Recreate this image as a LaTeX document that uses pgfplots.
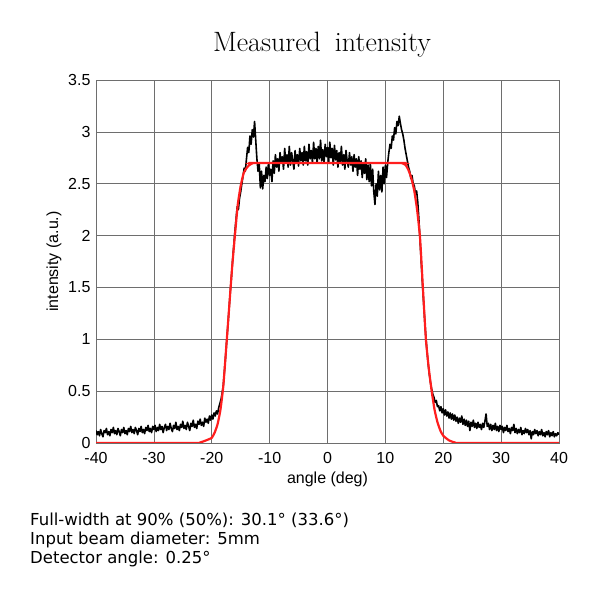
\documentclass[border=0pt]{standalone}
\usepackage{pgfplots}
\pgfplotsset{compat=1.18}
\usepackage{pgfplotstable}
\usepackage{fontspec}
\newfontfamily\arialfont{Liberation Sans}
\newfontfamily\verdanafont{DejaVu Sans}
\definecolor{fitred}{RGB}{255,30,30}
\definecolor{gridgray}{RGB}{110,110,110}

\pgfplotstableread{
x y
-40.0 0.12
-39.8 0.08
-39.6 0.11
-39.4 0.07
-39.2 0.13
-39.0 0.09
-38.8 0.06
-38.6 0.12
-38.4 0.10
-38.2 0.14
-38.0 0.08
-37.8 0.11
-37.6 0.07
-37.4 0.13
-37.2 0.10
-37.0 0.15
-36.8 0.09
-36.6 0.12
-36.4 0.08
-36.2 0.14
-36.0 0.11
-35.8 0.07
-35.6 0.13
-35.4 0.10
-35.2 0.15
-35.0 0.09
-34.8 0.12
-34.6 0.08
-34.4 0.14
-34.2 0.11
-34.0 0.16
-33.8 0.10
-33.6 0.13
-33.4 0.09
-33.2 0.15
-33.0 0.12
-32.8 0.08
-32.6 0.14
-32.4 0.11
-32.2 0.16
-32.0 0.10
-31.8 0.13
-31.6 0.09
-31.4 0.15
-31.2 0.12
-31.0 0.17
-30.8 0.11
-30.6 0.14
-30.4 0.10
-30.2 0.16
-30.0 0.13
-29.8 0.17
-29.6 0.11
-29.4 0.15
-29.2 0.12
-29.0 0.18
-28.8 0.13
-28.6 0.16
-28.4 0.10
-28.2 0.15
-28.0 0.18
-27.8 0.12
-27.6 0.16
-27.4 0.13
-27.2 0.19
-27.0 0.14
-26.8 0.11
-26.6 0.17
-26.4 0.14
-26.2 0.20
-26.0 0.13
-25.8 0.16
-25.6 0.12
-25.4 0.18
-25.2 0.15
-25.0 0.21
-24.8 0.14
-24.6 0.17
-24.4 0.13
-24.2 0.20
-24.0 0.16
-23.8 0.12
-23.6 0.19
-23.4 0.16
-23.2 0.22
-23.0 0.15
-22.8 0.18
-22.6 0.14
-22.4 0.21
-22.2 0.18
-22.0 0.23
-21.8 0.17
-21.6 0.20
-21.4 0.16
-21.2 0.24
-21.0 0.20
-20.8 0.23
-20.6 0.19
-20.4 0.26
-20.2 0.22
-20.0 0.27
-19.8 0.23
-19.6 0.29
-19.4 0.26
-19.2 0.31
-19.0 0.28
-18.8 0.34
-18.6 0.38
-18.4 0.42
-18.2 0.48
-18.0 0.56
-17.8 0.70
-17.6 0.84
-17.4 1.00
-17.2 1.14
-17.0 1.30
-16.8 1.46
-16.6 1.60
-16.4 1.76
-16.2 1.90
-16.0 2.04
-15.8 2.16
-15.6 2.28
-15.4 2.25
-15.2 2.36
-15.0 2.42
-14.8 2.50
-14.6 2.57
-14.4 2.65
-14.2 2.62
-14.0 2.74
-13.8 2.85
-13.6 2.80
-13.4 2.96
-13.2 2.88
-13.0 3.02
-12.8 2.95
-12.6 3.10
-12.4 2.92
-12.2 2.74
-12.0 2.62
-11.8 2.70
-11.6 2.46
-11.4 2.62
-11.2 2.45
-11.0 2.58
-10.8 2.52
-10.6 2.66
-10.4 2.55
-10.2 2.70
-10.0 2.58
-9.8 2.64
-9.6 2.52
-9.4 2.72
-9.2 2.60
-9.0 2.78
-8.8 2.66
-8.6 2.74
-8.4 2.62
-8.2 2.80
-8.0 2.70
-7.8 2.76
-7.6 2.64
-7.4 2.84
-7.2 2.70
-7.0 2.78
-6.8 2.66
-6.6 2.86
-6.4 2.68
-6.2 2.80
-6.0 2.72
-5.8 2.64
-5.6 2.82
-5.4 2.70
-5.2 2.78
-5.0 2.67
-4.8 2.84
-4.6 2.72
-4.4 2.80
-4.2 2.68
-4.0 2.86
-3.8 2.72
-3.6 2.81
-3.4 2.68
-3.2 2.88
-3.0 2.74
-2.8 2.82
-2.6 2.70
-2.4 2.90
-2.2 2.74
-2.0 2.84
-1.8 2.70
-1.6 2.86
-1.4 2.74
-1.2 2.92
-1.0 2.72
-0.8 2.83
-0.6 2.70
-0.4 2.88
-0.2 2.76
0.0 2.85
0.2 2.70
0.4 2.90
0.6 2.75
0.8 2.84
1.0 2.68
1.2 2.87
1.4 2.73
1.6 2.82
1.8 2.66
2.0 2.80
2.2 2.70
2.4 2.86
2.6 2.68
2.8 2.78
3.0 2.64
3.2 2.82
3.4 2.72
3.6 2.66
3.8 2.80
4.0 2.68
4.2 2.76
4.4 2.62
4.6 2.78
4.8 2.66
5.0 2.74
5.2 2.58
5.4 2.76
5.6 2.64
5.8 2.72
6.0 2.56
6.2 2.70
6.4 2.60
6.6 2.74
6.8 2.54
7.0 2.68
7.2 2.52
7.4 2.70
7.6 2.48
7.8 2.64
8.0 2.42
8.2 2.30
8.4 2.50
8.6 2.38
8.8 2.62
9.0 2.44
9.2 2.58
9.4 2.42
9.6 2.66
9.8 2.50
10.0 2.68
10.2 2.56
10.4 2.70
10.6 2.80
10.8 2.88
11.0 2.84
11.2 2.96
11.4 2.92
11.6 3.04
11.8 2.98
12.0 3.10
12.2 3.06
12.4 3.15
12.6 3.08
12.8 3.02
13.0 2.98
13.2 2.92
13.4 2.84
13.6 2.78
13.8 2.72
14.0 2.66
14.2 2.62
14.4 2.55
14.6 2.58
14.8 2.50
15.0 2.48
15.2 2.40
15.4 2.43
15.6 2.32
15.8 2.15
16.0 1.94
16.2 1.74
16.4 1.54
16.6 1.36
16.8 1.18
17.0 1.02
17.2 0.88
17.4 0.76
17.6 0.66
17.8 0.58
18.0 0.52
18.2 0.47
18.4 0.44
18.6 0.39
18.8 0.41
19.0 0.35
19.2 0.36
19.4 0.31
19.6 0.35
19.8 0.29
20.0 0.33
20.2 0.27
20.4 0.32
20.6 0.26
20.8 0.30
21.0 0.24
21.2 0.29
21.4 0.23
21.6 0.28
21.8 0.22
22.0 0.27
22.2 0.21
22.4 0.25
22.6 0.19
22.8 0.24
23.0 0.20
23.2 0.26
23.4 0.18
23.6 0.23
23.8 0.17
24.0 0.22
24.2 0.16
24.4 0.21
24.6 0.12
24.8 0.20
25.0 0.16
25.2 0.22
25.4 0.15
25.6 0.19
25.8 0.14
26.0 0.20
26.2 0.15
26.4 0.18
26.6 0.13
26.8 0.19
27.0 0.15
27.2 0.21
27.4 0.28
27.6 0.16
27.8 0.19
28.0 0.13
28.2 0.18
28.4 0.12
28.6 0.17
28.8 0.13
29.0 0.19
29.2 0.12
29.4 0.16
29.6 0.11
29.8 0.17
30.0 0.13
30.2 0.16
30.4 0.10
30.6 0.15
30.8 0.12
31.0 0.17
31.2 0.11
31.4 0.14
31.6 0.09
31.8 0.15
32.0 0.12
32.2 0.18
32.4 0.10
32.6 0.14
32.8 0.09
33.0 0.13
33.2 0.10
33.4 0.15
33.6 0.08
33.8 0.12
34.0 0.09
34.2 0.14
34.4 0.10
34.6 0.13
34.8 0.08
35.0 0.12
35.2 0.04
35.4 0.11
35.6 0.08
35.8 0.13
36.0 0.09
36.2 0.12
36.4 0.07
36.6 0.11
36.8 0.08
37.0 0.13
37.2 0.07
37.4 0.10
37.6 0.06
37.8 0.11
38.0 0.08
38.2 0.12
38.4 0.06
38.6 0.10
38.8 0.07
39.0 0.11
39.2 0.06
39.4 0.09
39.6 0.07
39.8 0.10
40.0 0.08
}\measured

\pgfplotstableread{
x y
-40 0
-23 0
-22 0.005
-21 0.025
-20 0.05
-19.5 0.10
-19 0.18
-18.5 0.32
-18 0.55
-17.5 0.92
-17 1.30
-16.5 1.68
-16 2.00
-15.5 2.30
-15 2.48
-14.5 2.60
-14 2.65
-13.5 2.68
-13 2.695
-12.5 2.70
12.5 2.70
13 2.695
13.5 2.68
14 2.63
14.5 2.55
15 2.43
15.5 2.24
16 1.97
16.5 1.48
17 1.00
17.5 0.72
18 0.50
18.5 0.32
19 0.20
19.5 0.12
20 0.07
21 0.025
22 0.005
23 0
40 0
}\fit

\begin{document}
\begin{tikzpicture}
\path[use as bounding box] (0,0) rectangle (600bp,600bp);
\begin{axis}[
  at={(96bp,157bp)}, anchor=south west,
  width=463bp, height=363bp, scale only axis,
  xmin=-40, xmax=40, ymin=0, ymax=3.5,
  xtick={-40,-30,-20,-10,0,10,20,30,40},
  ytick={0,0.5,1,1.5,2,2.5,3,3.5},
  yticklabels={0,0.5,1,1.5,2,2.5,3,3.5},
  grid=major,
  major grid style={gridgray, line width=0.6bp},
  axis line style={gridgray, line width=0.8bp},
  major tick length=0pt,
  /pgf/number format/assume math mode=true,
  tick label style={font=\arialfont\fontsize{16bp}{19bp}\selectfont},
  xticklabel style={yshift=-6bp},
  yticklabel style={xshift=-2bp},
  label style={font=\arialfont\fontsize{16bp}{19bp}\selectfont},
  xlabel={angle (deg)},
  xlabel style={yshift=-1bp},
  ylabel={intensity (a.u.)},
  ylabel style={yshift=0bp},
]
\addplot[black, line width=1.6bp, line join=round] table[x=x,y=y] {\measured};
\addplot[fitred, line width=2.2bp, smooth, tension=0.3] table[x=x,y=y] {\fit};
\end{axis}
\node[anchor=base, font=\fontsize{28bp}{33bp}\selectfont] at (322bp,548bp) {Measured\hspace{0.5em}intensity};
\node[anchor=base west, inner sep=0pt, font=\verdanafont\fontsize{16.5bp}{19bp}\selectfont] at (30bp,74bp) {Full-width at 90\% (50\%): 30.1° (33.6°)};
\node[anchor=base west, inner sep=0pt, font=\verdanafont\fontsize{16.5bp}{19bp}\selectfont] at (30bp,55bp) {Input beam diameter: 5mm};
\node[anchor=base west, inner sep=0pt, font=\verdanafont\fontsize{16.5bp}{19bp}\selectfont] at (30bp,37bp) {Detector angle: 0.25°};
\end{tikzpicture}
\end{document}
